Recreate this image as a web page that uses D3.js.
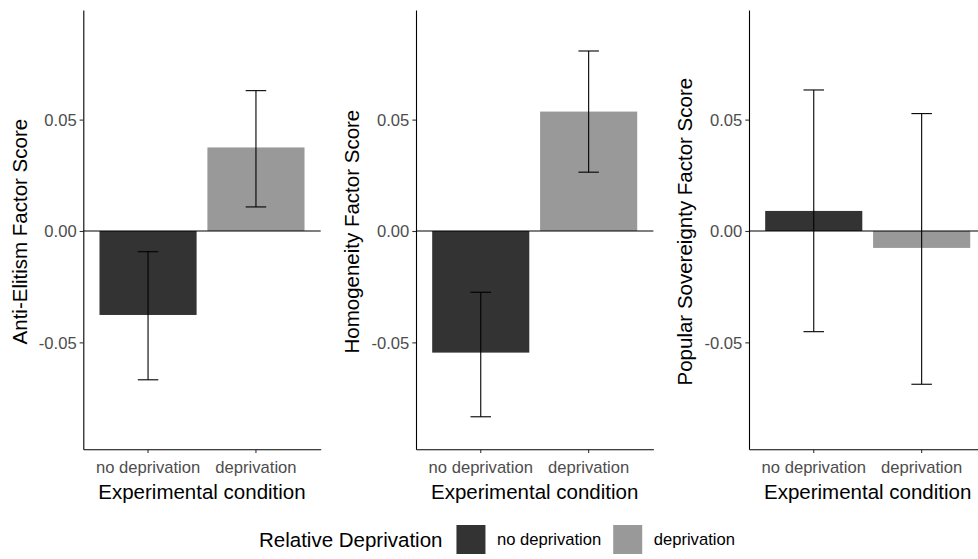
<!DOCTYPE html>
<html>
<head>
<meta charset="utf-8">
<script src="https://cdn.jsdelivr.net/npm/d3@7"></script>
<style>
body { margin: 0; background: #ffffff; }
svg { display: block; }
</style>
</head>
<body>
<div id="chartdiv"></div>
<script>
/*global window, document, d3 */

////////////////////////////////////////
// chart data
////////////////////////////////////////

var conditions = ["no deprivation", "deprivation"];
var panelTitles = ["Anti-Elitism Factor Score", "Homogeneity Factor Score",
                   "Popular Sovereignty Factor Score"];
var meanScores = [[-0.0377, 0.0375], [-0.0546, 0.0536], [0.0090, -0.0076]];
var lowerCI = [[-0.0668, 0.0108], [-0.0834, 0.0264], [-0.0452, -0.0688]];
var upperCI = [[-0.0093, 0.0630], [-0.0275, 0.0808], [0.0633, 0.0527]];
var yTicks = [-0.05, 0, 0.05];
var xTitle = "Experimental condition";
var legendTitle = "Relative Deprivation";
var barColours = ["#333333", "#999999"];

var chart = (function () {
    "use strict";

    ////////////////////////////////////////
    // closure variables
    ////////////////////////////////////////

    var lay = {width: 978, height: 559, panelx: [83.3, 416, 749],
               panelw: 237.4, top: 10, bottom: 449.3,
               ydom: [-0.098, 0.0992], font: "'Liberation Sans', Arial, sans-serif",
               txtsize: 16.6, titlesize: 20.5},
        svg,


    ////////////////////////////////////////
    // helper functions
    ////////////////////////////////////////

    fmtTick = function (d) {
        return d.toFixed(2);
    },


    drawPanel = function (idx) {
        var g, x, y, half, data;
        g = svg.append("g")
            .attr("transform", "translate(" + lay.panelx[idx] + ",0)");
        x = d3.scaleBand().domain(conditions)
            .range([0, lay.panelw])
            .paddingInner(0.1).paddingOuter(0.15);
        y = d3.scaleLinear().domain(lay.ydom)
            .range([lay.bottom, lay.top]);
        half = x.step() * 0.095;
        data = conditions.map(function (c, i) {
            return {cond: c, mean: meanScores[idx][i],
                    lo: lowerCI[idx][i], hi: upperCI[idx][i], col: barColours[i]}; });
        g.selectAll("rect.bar").data(data).enter().append("rect")
            .attr("class", "bar")
            .attr("x", function (d) { return x(d.cond); })
            .attr("width", x.bandwidth())
            .attr("y", function (d) { return y(Math.max(0, d.mean)); })
            .attr("height", function (d) {
                return Math.abs(y(d.mean) - y(0)); })
            .attr("fill", function (d) { return d.col; });
        g.append("line")
            .attr("x1", 0).attr("x2", lay.panelw)
            .attr("y1", y(0)).attr("y2", y(0))
            .attr("stroke", "#000").attr("stroke-width", 1.1);
        data.forEach(function (d) {
            var cx = x(d.cond) + x.bandwidth() / 2,
                eg = g.append("g").attr("stroke", "#000")
                    .attr("stroke-width", 1.1).attr("fill", "none");
            eg.append("line").attr("x1", cx).attr("x2", cx)
                .attr("y1", y(d.lo)).attr("y2", y(d.hi));
            eg.append("line").attr("x1", cx - half).attr("x2", cx + half)
                .attr("y1", y(d.lo)).attr("y2", y(d.lo));
            eg.append("line").attr("x1", cx - half).attr("x2", cx + half)
                .attr("y1", y(d.hi)).attr("y2", y(d.hi)); });
        //axes
        g.append("g").attr("class", "yaxis")
            .call(d3.axisLeft(y).tickValues(yTicks).tickFormat(fmtTick)
                  .tickSize(3.7).tickSizeOuter(0).tickPadding(3));
        g.append("g").attr("class", "xaxis")
            .attr("transform", "translate(0," + lay.bottom + ")")
            .call(d3.axisBottom(x).tickSize(3.7).tickSizeOuter(0)
                  .tickPadding(8.5));
        g.selectAll(".domain").attr("stroke", "#000").attr("stroke-width", 1.1);
        g.selectAll(".tick line").attr("stroke", "#333333").attr("stroke-width", 1.1);
        g.selectAll(".tick text").attr("fill", "#4d4d4d")
            .style("font-family", lay.font).style("font-size", lay.txtsize + "px");
        g.select(".yaxis").selectAll(".tick text").attr("dy", "0.36em");
        //titles
        g.append("text")
            .attr("transform", "translate(-64," + ((lay.top + lay.bottom) / 2 + 2) +
                  ") rotate(-90)")
            .attr("text-anchor", "middle").attr("dy", "0.36em")
            .style("font-family", lay.font).style("font-size", lay.titlesize + "px")
            .attr("fill", "#000").text(panelTitles[idx]);
        g.append("text")
            .attr("x", lay.panelw / 2).attr("y", 498.5)
            .attr("text-anchor", "middle")
            .style("font-family", lay.font).style("font-size", lay.titlesize + "px")
            .attr("fill", "#000").text(xTitle);
    },


    drawLegend = function () {
        var g = svg.append("g"), t, xpos = 259, ky = 525, ks = 29;
        t = g.append("text").attr("x", xpos).attr("y", ky + ks / 2)
            .attr("dy", "0.36em")
            .style("font-family", lay.font).style("font-size", lay.titlesize + "px")
            .text(legendTitle);
        xpos += t.node().getComputedTextLength() + 14;
        conditions.forEach(function (c, i) {
            g.append("rect").attr("x", xpos).attr("y", ky)
                .attr("width", ks).attr("height", ks)
                .attr("fill", barColours[i]);
            xpos += ks + 11.5;
            t = g.append("text").attr("x", xpos).attr("y", ky + ks / 2)
                .attr("dy", "0.36em")
                .style("font-family", lay.font).style("font-size", lay.txtsize + "px")
                .text(c);
            xpos += t.node().getComputedTextLength() + 12; });
    };


    ////////////////////////////////////////
    // published functions
    ////////////////////////////////////////
return {

    run: function () {
        svg = d3.select("#chartdiv").append("svg")
            .attr("width", lay.width).attr("height", lay.height);
        svg.append("rect")
            .attr("width", lay.width).attr("height", lay.height)
            .attr("fill", "#ffffff");
        panelTitles.forEach(function (ignore, i) {
            drawPanel(i); });
        drawLegend();
    }

};  //end of returned functions
}());

chart.run();
</script>
</body>
</html>
